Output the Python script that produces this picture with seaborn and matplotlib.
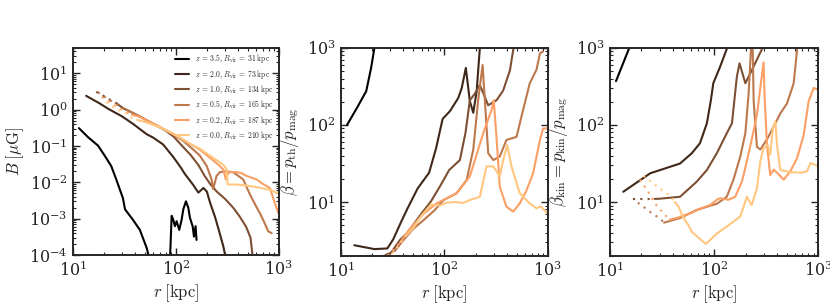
import numpy as np
import seaborn as sns
import matplotlib.pyplot as plt
from matplotlib.ticker import LogLocator, NullFormatter

# redshift snapshots and virial radii (legend)
redshift = ['3.5', '2.0', '1.0', '0.5', '0.2', '0.0']
r_vir = [31, 73, 134, 165, 187, 210]

# --- magnetic field strength B [muG] vs r [kpc]
r_B = [
    [11.4, 14, 17.5, 20.3, 23.5, 26.3, 28.4, 30.5, 32, 38.2, 44.6, 52, 54, 60, 75, 87,
     90.8, 94.2, 97.7, 101.6, 107.6, 113.5, 117.8, 125, 131.8, 136.8, 145.2, 149.6, 155, 158.5],
    [13.4, 18, 22, 30, 38.5, 52, 60, 75, 94, 112, 122, 147, 165, 185, 200, 214, 240, 260, 289, 300, 320],
    [16.8, 19.3, 22.2, 24.1, 26.8, 30.5, 44, 64, 80, 95, 115, 140, 165, 190, 215, 250, 300, 360, 420,
     480, 530, 550, 565],
    [17.5, 20, 23, 26, 30, 33, 44, 64, 93, 117, 140, 170, 199, 222, 230, 248, 267, 300, 360, 450, 522,
     600, 655, 720, 787, 850],
    [19, 22, 25, 29, 33, 37.4, 44, 64, 93, 117, 140, 170, 200, 230, 260, 290, 305, 315, 330, 388, 430,
     485, 607, 700, 818, 900, 990],
    [21, 24.4, 27.4, 31.7, 35.5, 42, 50, 64, 93, 117, 140, 170, 214, 250, 290, 310, 318, 340, 388, 450,
     522, 655, 750, 850, 940, 1000],
]
B = [
    [0.31, 0.174, 0.102, 0.054, 0.028, 0.012, 0.0065, 0.0037, 0.0018, 0.00093, 0.00049, 0.000155, 0.0001,
     3e-5, 1e-5, 5e-5, 0.0012, 0.00093, 0.00062, 0.00085, 0.00049, 0.00093, 0.0018, 0.003, 0.002,
     0.00105, 0.00062, 0.00032, 0.00062, 0.00026],
    [2.4, 1.5, 1.05, 0.65, 0.4, 0.21, 0.17, 0.11, 0.05, 0.025, 0.017, 0.0085, 0.0052, 0.007, 0.0055,
     0.0028, 0.0011, 0.0005, 0.00017, 0.0001, 0.00003],
    [3.1, 2.5, 1.94, 1.75, 1.45, 1.1, 0.66, 0.37, 0.26, 0.18, 0.1, 0.055, 0.03, 0.015, 0.009, 0.0055,
     0.0035, 0.002, 0.0011, 0.0006, 0.0003, 0.00012, 0.00004],
    [3.0, 2.3, 1.8, 1.45, 1.15, 1.0, 0.66, 0.37, 0.21, 0.14, 0.09, 0.055, 0.028, 0.012, 0.0065, 0.015,
     0.019, 0.02, 0.019, 0.012, 0.0047, 0.0022, 0.0014, 0.0008, 0.00045, 0.0004],
    [2.2, 1.7, 1.35, 1.05, 0.85, 0.72, 0.64, 0.38, 0.22, 0.15, 0.11, 0.08, 0.055, 0.04, 0.03, 0.022,
     0.012, 0.016, 0.019, 0.019, 0.018, 0.015, 0.012, 0.009, 0.007, 0.003, 0.0014],
    [1.6, 1.19, 0.96, 0.87, 0.63, 0.52, 0.46, 0.36, 0.22, 0.15, 0.11, 0.085, 0.054, 0.04, 0.03, 0.023,
     0.0087, 0.0087, 0.0087, 0.0083, 0.0079, 0.0071, 0.0065, 0.006, 0.0052, 0.005],
]

# --- beta = p_th / p_mag
r_beta = [
    [11.4, 14.5, 17.5, 19.5, 21, 23],
    [13.4, 21, 28, 32, 38, 44, 55, 71, 83, 96, 113, 136, 147, 161, 176, 190, 205, 220, 235],
    [18, 22, 26.8, 30.4, 37, 44, 59, 74, 92, 111, 141, 160, 176, 195, 220, 240, 265, 319, 370, 430, 462, 520],
    [22, 27, 33, 40, 50, 62.5, 80, 98, 131, 164, 190, 212, 234, 246, 265, 297, 343, 398, 498, 577, 669,
     776, 840, 900],
    [25, 30, 37.4, 45, 55, 62.5, 84, 131, 176, 237, 286, 300, 320, 343, 398, 462, 535, 620, 720, 840, 900, 1000],
    [28, 35, 42, 50, 59, 74, 90, 105, 130, 150, 176, 220, 255, 297, 343, 370, 405, 445, 535, 669, 776,
     850, 1000],
]
beta = [
    [100, 174, 275, 550, 1000, 2000],
    [2.75, 2.45, 2.5, 3.3, 5.5, 8.3, 15, 24, 50, 120, 151, 224, 302, 550, 204, 144, 275, 1000, 3000],
    [1.7, 1.9, 2.05, 2.2, 3.2, 4.0, 6.9, 10.2, 16.6, 26, 35, 80, 209, 250, 330, 250, 180, 209, 280, 510, 930, 2000],
    [1.6, 1.9, 2.3, 3.2, 4.5, 5.8, 7.8, 10.6, 13, 19.3, 48, 210, 600, 210, 43, 35, 39, 64, 70, 157, 348,
     518, 850, 900],
    [1.7, 2.2, 3.0, 4.3, 5.8, 7.0, 9.6, 13, 21.5, 78, 157, 210, 64, 15.8, 8.7, 7.5, 9.6, 14, 23.5, 64, 90, 90],
    [1.8, 2.6, 3.6, 4.6, 6.5, 9.3, 9.0, 9.8, 10, 9.7, 10.6, 11.7, 29, 29, 21.5, 35, 55, 29, 13, 9.6, 8.3,
     8.8, 7.1],
]

# --- beta_kin = p_kin / p_mag
r_bkin = [
    [11.4, 15.3, 18, 22],
    [13.4, 24.3, 47, 61, 73, 85, 93, 98, 114, 132, 158],
    [16.7, 20, 23.5, 26.8, 29, 47, 68, 85, 106, 132, 148, 165, 175, 199, 222, 288, 330],
    [18.5, 20.9, 23.7, 26.7, 30.3, 33, 47, 68, 106, 132, 153, 178, 199, 214, 225, 232, 239, 257, 277,
     321, 372, 431, 500, 579, 624, 660],
    [19.4, 23.1, 27.1, 32.6, 37.4, 45, 60, 75, 92, 106, 114, 137, 159, 185, 206, 231, 257, 277, 298,
     305, 321, 345, 372, 401, 465, 538, 624, 723, 807, 902, 977, 1000],
    [20.9, 26.1, 29.8, 33.8, 39.2, 42, 45.4, 50.7, 56.6, 61, 73.3, 83, 106, 132, 178, 206, 229, 257, 277,
     298, 326, 345, 366, 386, 401, 431, 538, 671, 778, 838, 955, 1000],
]
bkin = [
    [370, 1000, 1800, 3500],
    [13.6, 23.6, 31.6, 43, 58, 105, 211, 348, 571, 970, 2000],
    [11, 11, 11, 11, 11, 11.7, 18.4, 26, 43, 78, 105, 424, 630, 348, 468, 970, 1800],
    [9.8, 8.7, 7.6, 6.8, 6.1, 5.4, 6.2, 7.9, 9.5, 11.7, 19.5, 39, 78, 257, 930, 2000, 209, 52, 48,
     65, 95, 141, 190, 347, 930, 2000],
    [19.5, 13.8, 9.5, 7.1, 5.9, 6.3, 7.2, 8.3, 9.2, 10.7, 11.2, 10.7, 11.7, 18.6, 34, 68, 135, 302, 650,
     224, 55, 22.4, 26.3, 24, 19.5, 25, 37, 74, 204, 302, 288, 290],
    [21.9, 17.4, 15.1, 13.5, 11.2, 10, 8.7, 6.2, 5.0, 4.1, 3.3, 2.85, 3.9, 4.8, 6.5, 11.7, 9.1, 15, 34,
     50, 55, 41, 91, 112, 55, 26, 24.5, 24, 25, 32, 30, 29],
]

sns.set_style('ticks')
plt.rcParams['mathtext.fontset'] = 'cm'
plt.rcParams['font.family'] = 'serif'
plt.rcParams['font.serif'] = ['DejaVu Serif']

colors = sns.color_palette('copper', as_cmap=True)(np.linspace(0, 1, len(redshift)))


def draw(ax, r, v, color, rv, label=None):
    r = np.asarray(r, dtype=float)
    v = np.asarray(v, dtype=float)
    # inside 0.2 R_vir the profile is drawn dotted
    k = max(np.searchsorted(r, 0.2 * rv * 1.001, side='right') - 1, 0)
    if k > 0:
        sns.lineplot(x=r[:k + 1], y=v[:k + 1], ax=ax, color=color, lw=1.5,
                     linestyle=(0, (1, 2.5)), sort=False, estimator=None)
    sns.lineplot(x=r[k:], y=v[k:], ax=ax, color=color, lw=1.5, sort=False,
                 estimator=None, label=label)


def style(ax, ylim, ylabel, ypad):
    ax.set_xscale('log')
    ax.set_yscale('log')
    ax.set_xlim(10, 1000)
    ax.set_ylim(*ylim)
    ax.set_xlabel(r'$r\;[{\rm kpc}]$', fontsize=12, labelpad=2)
    ax.set_ylabel(ylabel, fontsize=12, labelpad=ypad)
    for axis in (ax.xaxis, ax.yaxis):
        axis.set_major_locator(LogLocator(base=10, numticks=12))
        axis.set_minor_locator(LogLocator(base=10, subs=np.arange(2, 10), numticks=12))
        axis.set_minor_formatter(NullFormatter())
    ax.tick_params(which='both', direction='in', top=True, right=True, labelsize=11.5)
    ax.tick_params(which='major', length=5, width=1, pad=4)
    ax.tick_params(which='minor', length=2.5, width=0.8)
    for s in ax.spines.values():
        s.set_linewidth(1.4)


fig = plt.figure(figsize=(8.3, 3.05), dpi=100)
ax1 = fig.add_axes([0.088, 0.164, 0.248, 0.679])
ax2 = fig.add_axes([0.411, 0.161, 0.249, 0.682])
ax3 = fig.add_axes([0.735, 0.161, 0.251, 0.682])

for i in range(len(redshift)):
    lab = r'$z\,=\,%s,\,R_{\rm vir}\,=\,%d\;{\rm kpc}$' % (redshift[i], r_vir[i])
    draw(ax1, r_B[i], B[i], colors[i], r_vir[i], label=lab)
    draw(ax2, r_beta[i], beta[i], colors[i], r_vir[i])
    draw(ax3, r_bkin[i], bkin[i], colors[i], r_vir[i])

style(ax1, (1e-4, 50), r'$B\;[\mu{\rm G}]$', 2)
style(ax2, (2, 1000), r'$\beta = p_{\rm th}/p_{\rm mag}$', 4)
style(ax3, (2, 1000), r'$\beta_{\rm kin} = p_{\rm kin}/p_{\rm mag}$', 4)

ax1.legend(loc='upper right', frameon=False, fontsize=5.5, handlelength=1.8,
           labelspacing=0.3, borderaxespad=0.2, handletextpad=0.8)

fig.savefig('out.png', dpi=100)
